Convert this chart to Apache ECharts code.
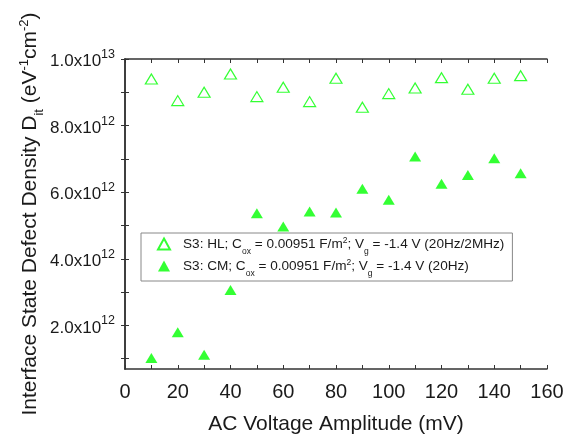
<!DOCTYPE html>
<html>
<head>
<meta charset="utf-8">
<script src="https://cdn.jsdelivr.net/npm/echarts@6/dist/echarts.min.js"></script>
<style>
html,body{margin:0;padding:0;background:#fff;}
#chart{width:574px;height:436px;}
</style>
</head>
<body>
<div id="chart"></div>
<script>
// AC voltage amplitude (mV)
const voltages = [10, 20, 30, 40, 50, 60, 70, 80, 90, 100, 110, 120, 130, 140, 150];
// HL method Dit (eV^-1 cm^-2)
const hlValues = [9.40e12, 8.75e12, 9.00e12, 9.55e12, 8.87e12, 9.15e12, 8.72e12, 9.42e12, 8.55e12, 8.96e12, 9.13e12, 9.44e12, 9.09e12, 9.42e12, 9.50e12];
// CM method Dit (eV^-1 cm^-2)
const cmValues = [1.02e12, 1.79e12, 1.12e12, 3.06e12, 5.37e12, 4.97e12, 5.42e12, 5.39e12, 6.10e12, 5.77e12, 7.07e12, 6.25e12, 6.52e12, 7.02e12, 6.57e12];
// tick labels
const xLabelValues = [0, 20, 40, 60, 80, 100, 120, 140, 160];
const xTickValues = [0, 10, 20, 30, 40, 50, 60, 70, 80, 90, 100, 110, 120, 130, 140, 150, 160];
const yLabelValues = [2e12, 4e12, 6e12, 8e12, 1e13];
const yTickValues = [1e12, 2e12, 3e12, 4e12, 5e12, 6e12, 7e12, 8e12, 9e12, 1e13];

const FONT = 'Liberation Sans, Arial, sans-serif';
const AXIS_COLOR = '#333';
const TEXT_COLOR = '#1a1a1a';
const GREEN = '#00ff00';

function sciLabel(v) {
  const exp = Math.floor(Math.log10(v) + 1e-9);
  const m = v / Math.pow(10, exp);
  return '{b|' + m.toFixed(1) + 'x10}{s|' + exp + '}';
}

const superRich = {
  b: {fontSize: 17, fontFamily: FONT, color: TEXT_COLOR, lineHeight: 22, verticalAlign: 'bottom'},
  s: {fontSize: 12.5, fontFamily: FONT, color: TEXT_COLOR, lineHeight: 22, verticalAlign: 'top'}
};

const chart = echarts.init(document.getElementById('chart'), null, {renderer: 'canvas'});

const legendNames = {
  HL: '{t|S3: HL; C}{sub|ox}{t| = 0.00951 F/m}{sup|2}{t|; V}{sub|g}{t| = -1.4 V (20Hz/2MHz)}',
  CM: '{t|S3: CM; C}{sub|ox}{t| = 0.00951 F/m}{sup|2}{t|; V}{sub|g}{t| = -1.4 V (20Hz)}'
};

const option = {
  backgroundColor: '#fff',
  animation: false,
  grid: {left: 125, top: 59, right: 27, bottom: 67, containLabel: false, outerBoundsMode: 'none'},
  legend: {
    orient: 'vertical',
    left: 141,
    top: 233,
    padding: [3, 8, 3, 16],
    itemGap: 2,
    itemWidth: 12,
    itemHeight: 11,
    borderColor: '#888',
    borderWidth: 1,
    borderRadius: 0,
    data: ['HL', 'CM'],
    formatter: function (name) { return legendNames[name]; },
    textStyle: {
      padding: [0, 0, 0, 8],
      rich: {
        t: {fontSize: 13.6, fontFamily: FONT, color: TEXT_COLOR, lineHeight: 16, verticalAlign: 'middle'},
        sub: {fontSize: 8.5, fontFamily: FONT, color: TEXT_COLOR, lineHeight: 16, verticalAlign: 'bottom', padding: [0, 0, -4, 0]},
        sup: {fontSize: 8.5, fontFamily: FONT, color: TEXT_COLOR, lineHeight: 16, verticalAlign: 'top'}
      }
    }
  },
  xAxis: [{
    type: 'value',
    position: 'bottom',
    min: 0,
    max: 160,
    interval: 10,
    name: 'AC Voltage Amplitude (mV)',
    nameLocation: 'middle',
    nameGap: 45,
    nameMoveOverlap: false,
    nameTextStyle: {fontSize: 21, fontFamily: FONT, color: TEXT_COLOR},
    axisLine: {lineStyle: {color: AXIS_COLOR, width: 1.5}},
    axisTick: {inside: true, length: 4, lineStyle: {color: AXIS_COLOR}, customValues: xTickValues},
    axisLabel: {fontSize: 20, fontFamily: FONT, color: TEXT_COLOR, margin: 13, customValues: xLabelValues},
    splitLine: {show: false}
  }, {
    type: 'value',
    position: 'top',
    min: 0,
    max: 160,
    interval: 10,
    axisLine: {lineStyle: {color: AXIS_COLOR, width: 1.5}},
    axisTick: {inside: true, length: 4, lineStyle: {color: AXIS_COLOR}, customValues: xTickValues},
    axisLabel: {show: false},
    splitLine: {show: false}
  }],
  yAxis: [{
    type: 'value',
    position: 'left',
    min: 0.69e12,
    max: 1e13,
    name: '{n|Interface State Defect Density D}{sub|it}{n| (eV}{sup|-1}{n|cm}{sup|-2}{n|)}',
    nameLocation: 'middle',
    nameGap: 83,
    nameMoveOverlap: false,
    nameTextStyle: {
      rich: {
        n: {fontSize: 21, fontFamily: FONT, color: TEXT_COLOR, lineHeight: 24, verticalAlign: 'middle'},
        sub: {fontSize: 13, fontFamily: FONT, color: TEXT_COLOR, lineHeight: 24, verticalAlign: 'bottom', padding: [0, 0, -4, 0]},
        sup: {fontSize: 13, fontFamily: FONT, color: TEXT_COLOR, lineHeight: 24, verticalAlign: 'top'}
      }
    },
    axisLine: {show: true, lineStyle: {color: AXIS_COLOR, width: 1.5}},
    axisTick: {show: true, inside: true, length: 4, lineStyle: {color: AXIS_COLOR}, customValues: yTickValues},
    axisLabel: {margin: 10, formatter: sciLabel, rich: superRich, customValues: yLabelValues},
    splitLine: {show: false}
  }, {
    type: 'value',
    position: 'right',
    min: 0.69e12,
    max: 1e13,
    axisLine: {show: true, lineStyle: {color: AXIS_COLOR, width: 1.5}},
    axisTick: {show: true, inside: true, length: 4, lineStyle: {color: AXIS_COLOR}, customValues: yTickValues},
    axisLabel: {show: false},
    splitLine: {show: false}
  }],
  series: [{
    name: 'HL',
    type: 'scatter',
    symbol: 'triangle',
    symbolSize: [12, 10],
    itemStyle: {color: 'rgba(255,255,255,0)', borderColor: GREEN, borderWidth: 1.2},
    data: voltages.map((v, i) => [v, hlValues[i]])
  }, {
    name: 'CM',
    type: 'scatter',
    symbol: 'triangle',
    symbolSize: [12, 10],
    itemStyle: {color: GREEN, borderWidth: 0},
    data: voltages.map((v, i) => [v, cmValues[i]])
  }]
};
chart.setOption(option);
</script>
</body>
</html>
